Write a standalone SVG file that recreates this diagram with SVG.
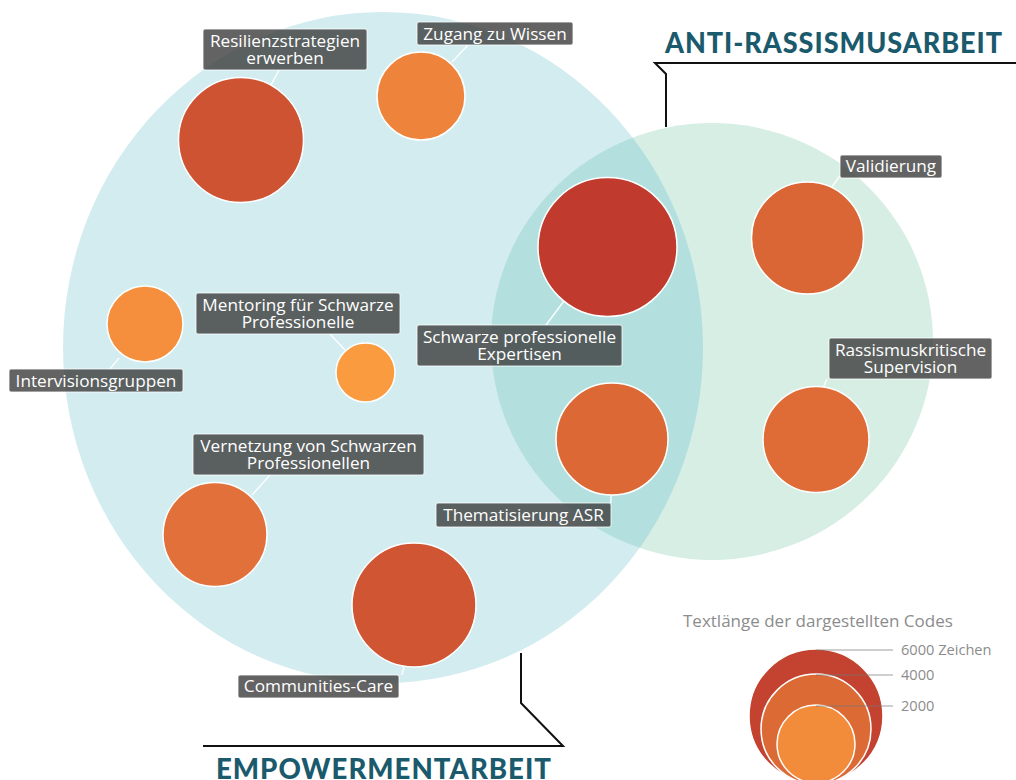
<svg xmlns="http://www.w3.org/2000/svg" width="1016" height="780" viewBox="0 0 1016 780">
<defs>
<style>
.lbl rect{fill:#3c3c3c;fill-opacity:0.8;stroke:#ffffff;stroke-width:1;stroke-opacity:0.8}
.lbl text{font-family:"Open Sans","Liberation Sans",sans-serif;font-size:17.2px;fill:#ffffff;text-anchor:middle}
.node circle{stroke:#ffffff;stroke-width:1.5}
.conn line{stroke:#ffffff;stroke-width:1.5;stroke-opacity:0.9}
.title{font-family:"Lato","Liberation Sans",sans-serif;font-weight:900;font-size:28px;fill:#1a5a6c;letter-spacing:1px}
.bracket{fill:none;stroke:#111111;stroke-width:2}
.leg{font-family:"Open Sans","Liberation Sans",sans-serif;fill:#8c8c8c}
.legline{stroke:#777777;stroke-opacity:0.7;stroke-width:1.2}
</style>
<clipPath id="clipLeft"><ellipse cx="383" cy="347.5" rx="320" ry="335.5"/></clipPath>
</defs>
<rect width="1016" height="780" fill="#ffffff"/>
<g id="sets">
<ellipse id="empowerment-set" cx="383" cy="347.5" rx="320" ry="335.5" fill="#d3ecf0"/>
<ellipse id="antirassismus-set" cx="712" cy="341.5" rx="221" ry="218.5" fill="#d6eee4"/>
<ellipse cx="712" cy="341.5" rx="221" ry="218.5" fill="#b3e0df" clip-path="url(#clipLeft)"/>
</g>
<g id="titles">
<polyline class="bracket" points="1016,63 655,63 666,74 666,127"/>
<text class="title" x="665" y="53" textLength="338" lengthAdjust="spacingAndGlyphs">ANTI-RASSISMUSARBEIT</text>
<polyline class="bracket" points="521,653 521,703 563,746 203,746"/>
<text class="title" x="216" y="779" textLength="336" lengthAdjust="spacingAndGlyphs">EMPOWERMENTARBEIT</text>
</g>
<g id="connectors" class="conn">
<line x1="279" y1="70" x2="271" y2="85"/>
<line x1="468" y1="45" x2="452" y2="62"/>
<line x1="119" y1="358" x2="110" y2="369"/>
<line x1="330" y1="334" x2="345" y2="350"/>
<line x1="270" y1="475" x2="252" y2="495"/>
<line x1="404" y1="667" x2="402" y2="675"/>
<line x1="564" y1="301" x2="546" y2="325"/>
<line x1="611" y1="495" x2="611" y2="503"/>
<line x1="840" y1="176" x2="831" y2="188"/>
<line x1="827" y1="379" x2="823" y2="388"/>
</g>
<g id="node-resilienz" class="node"><circle cx="241" cy="140" r="62.5" fill="#cd5332"/></g>
<g id="node-zugang" class="node"><circle cx="421" cy="96" r="44" fill="#ee843c"/></g>
<g id="node-intervision" class="node"><circle cx="145" cy="324" r="38" fill="#f58f3e"/></g>
<g id="node-mentoring" class="node"><circle cx="365.5" cy="372.5" r="29.5" fill="#fb9b40"/></g>
<g id="node-vernetzung" class="node"><circle cx="215" cy="534.5" r="52" fill="#e2703a"/></g>
<g id="node-communities" class="node"><circle cx="414" cy="605" r="62" fill="#cf5533"/></g>
<g id="node-expertisen" class="node"><circle cx="607.5" cy="247" r="69.5" fill="#c03a2e"/></g>
<g id="node-thematisierung" class="node"><circle cx="612" cy="439" r="56" fill="#dc6835"/></g>
<g id="node-validierung" class="node"><circle cx="807.5" cy="238" r="56" fill="#da6535"/></g>
<g id="node-supervision" class="node"><circle cx="816" cy="439.5" r="53" fill="#df6c36"/></g>
<g id="labels">
<g id="label-resilienz" class="lbl"><rect x="203" y="29" width="164" height="41" rx="2"/><text x="285" y="47">Resilienzstrategien</text><text x="285" y="64">erwerben</text></g>
<g id="label-zugang" class="lbl"><rect x="417" y="22" width="156" height="23" rx="2"/><text x="495" y="39.5">Zugang zu Wissen</text></g>
<g id="label-intervision" class="lbl"><rect x="9" y="369" width="174" height="23" rx="2"/><text x="96" y="386.5">Intervisionsgruppen</text></g>
<g id="label-mentoring" class="lbl"><rect x="196" y="293" width="204" height="41" rx="2"/><text x="298" y="311">Mentoring für Schwarze</text><text x="298" y="328">Professionelle</text></g>
<g id="label-vernetzung" class="lbl"><rect x="193" y="434" width="231" height="41" rx="2"/><text x="308.5" y="452">Vernetzung von Schwarzen</text><text x="308.5" y="469">Professionellen</text></g>
<g id="label-communities" class="lbl"><rect x="238" y="675" width="161" height="23" rx="2"/><text x="318.5" y="692">Communities-Care</text></g>
<g id="label-expertisen" class="lbl"><rect x="417" y="325" width="205" height="41" rx="2"/><text x="519.5" y="343">Schwarze professionelle</text><text x="519.5" y="360">Expertisen</text></g>
<g id="label-thematisierung" class="lbl"><rect x="436" y="503" width="175" height="24" rx="2"/><text x="523.5" y="521">Thematisierung ASR</text></g>
<g id="label-validierung" class="lbl"><rect x="840" y="155" width="102" height="23" rx="2"/><text x="891" y="172">Validierung</text></g>
<g id="label-supervision" class="lbl"><rect x="829" y="338" width="163" height="41" rx="2"/><text x="910.5" y="356">Rassismuskritische</text><text x="910.5" y="373">Supervision</text></g>
</g>
<g id="legend">
<text class="leg" x="683" y="627" font-size="17">Textlänge der dargestellten Codes</text>
<circle cx="816" cy="716" r="67" fill="#c44230" stroke="#ffffff" stroke-width="1.5"/>
<circle cx="816" cy="729" r="55" fill="#dc6a35" stroke="#ffffff" stroke-width="1.5"/>
<circle cx="816" cy="744" r="39" fill="#f28c3b" stroke="#ffffff" stroke-width="1.5"/>
<line class="legline" x1="816" y1="650" x2="893" y2="650"/>
<line class="legline" x1="816" y1="675" x2="893" y2="675"/>
<line class="legline" x1="816" y1="706" x2="893" y2="706"/>
<text class="leg" x="901" y="655" font-size="14.6">6000 Zeichen</text>
<text class="leg" x="901" y="680" font-size="14.6">4000</text>
<text class="leg" x="901" y="711" font-size="14.6">2000</text>
</g>
</svg>
